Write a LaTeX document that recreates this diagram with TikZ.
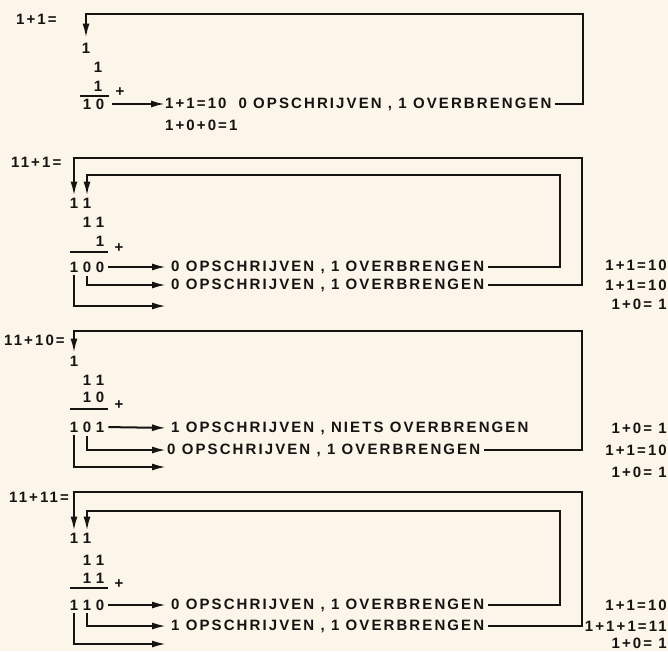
\documentclass[tikz,border=0pt]{standalone}
\usepackage{fontspec}
\setmainfont{Liberation Sans}[LetterSpace=14]
\usetikzlibrary{arrows.meta}
\definecolor{paper}{RGB}{252,245,233}
\definecolor{ink}{RGB}{22,20,18}
\tikzset{
  txt/.style={font=\bfseries\fontsize{15}{17}\selectfont, text=ink, inner sep=0pt},
  dg/.style={txt, anchor=center},
  lbl/.style={txt, anchor=west},
  req/.style={txt, anchor=east},
  ln/.style={draw=ink, line width=2pt},
  arr/.style={ln, -{Latex[length=14pt,width=7pt]}},
}
\begin{document}
\begin{tikzpicture}[x=1pt,y=-1pt]
\fill[paper] (0,0) rectangle (668,651);
\useasboundingbox (0,0) rectangle (668,651);

% ---------- section 1 : 1+1 ----------
\node[lbl] (s1q) at (16,19) {1+1=};
\node[dg] (s1c) at (86,48) {1};
\node[dg] (s1a) at (98,67) {1};
\node[dg] (s1b) at (98,86) {1};
\draw[ln] (80,96) -- (109,96);
\node[dg] (s1p) at (120,92) {+};
\node[dg] (s1r1) at (87,104) {1};
\node[dg] (s1r0) at (100,104) {0};
\node[lbl] (s1l1) at (165,104) {1+1=10\hspace{12pt}0 OPSCHRIJVEN , 1 OVERBRENGEN};
\node[lbl] (s1l2) at (165,125) {1+0+0=1};
\draw[arr, shorten <=8pt] (s1r0.east) -- (s1l1.west);
\coordinate (s1t) at (583,14);
\draw[arr, shorten <=3pt, shorten >=5pt] (s1l1.east) -| (s1t) -| (s1c.north);

% ---------- section 2 : 11+1 ----------
\node[lbl] (s2q) at (11,162) {11+1=};
\node[dg] (s2k2) at (74,203) {1};
\node[dg] (s2k1) at (87,203) {1};
\node[dg] (s2a1) at (87,222) {1};
\node[dg] (s2a0) at (100,222) {1};
\node[dg] (s2b0) at (100,241) {1};
\draw[ln] (70,252) -- (108,252);
\node[dg] (s2p) at (119,248) {+};
\node[dg] (s2r2) at (74,267) {1};
\node[dg] (s2r1) at (87,267) {0};
\node[dg] (s2r0) at (100,267) {0};
\node[lbl] (s2l1) at (171,267) {0 OPSCHRIJVEN , 1 OVERBRENGEN};
\node[lbl] (s2l2) at (171,285) {0 OPSCHRIJVEN , 1 OVERBRENGEN};
\coordinate (s2e3) at (166,306);
\draw[arr, shorten <=4pt, shorten >=5pt] (s2r0.east) -- (s2l1.west);
\draw[arr, shorten <=3pt, shorten >=5pt] (s2r1.south) |- (s2l2.west);
\draw[arr, shorten <=3pt] (s2r2.south) |- (s2e3);
\coordinate (s2ti) at (560,175);
\coordinate (s2to) at (582,158);
\draw[arr, shorten <=4pt, shorten >=2pt] (s2l1.east) -| (s2ti) -| (s2k1.north);
\draw[arr, shorten <=4pt, shorten >=2pt] (s2l2.east) -| (s2to) -| (s2k2.north);
\node[req] (s2m1) at (667,265) {1+1=10};
\node[req] (s2m2) at (667,285) {1+1=10};
\node[req] (s2m3) at (667,304) {1+0= 1};

% ---------- section 3 : 11+10 ----------
\node[lbl] (s3q) at (4,340) {11+10=};
\node[dg] (s3k2) at (74,361) {1};
\node[dg] (s3a1) at (87,380) {1};
\node[dg] (s3a0) at (100,380) {1};
\node[dg] (s3b1) at (87,397) {1};
\node[dg] (s3b0) at (100,397) {0};
\draw[ln] (70,409) -- (108,409);
\node[dg] (s3p) at (119,405) {+};
\node[dg] (s3r2) at (74,427) {1};
\node[dg] (s3r1) at (87,427) {0};
\node[dg] (s3r0) at (100,427) {1};
\node[lbl] (s3l1) at (171,428) {1 OPSCHRIJVEN , NIETS OVERBRENGEN};
\node[lbl] (s3l2) at (167,450) {0 OPSCHRIJVEN , 1 OVERBRENGEN};
\coordinate (s3e3) at (166,467);
\draw[arr, shorten <=4pt, shorten >=5pt] (s3r0.east) -- (s3l1.west);
\draw[arr, shorten <=3pt, shorten >=1pt] (s3r1.south) |- (s3l2.west);
\draw[arr, shorten <=3pt] (s3r2.south) |- (s3e3);
\coordinate (s3to) at (582,331);
\draw[arr, shorten <=4pt, shorten >=3pt] (s3l2.east) -| (s3to) -| (s3k2.north);
\node[req] (s3m1) at (667,428) {1+0= 1};
\node[req] (s3m2) at (667,450) {1+1=10};
\node[req] (s3m3) at (667,472) {1+0= 1};

% ---------- section 4 : 11+11 ----------
\node[lbl] (s4q) at (9,497) {11+11=};
\node[dg] (s4k2) at (74,538) {1};
\node[dg] (s4k1) at (87,538) {1};
\node[dg] (s4a1) at (87,560) {1};
\node[dg] (s4a0) at (100,560) {1};
\node[dg] (s4b1) at (87,578) {1};
\node[dg] (s4b0) at (100,578) {1};
\draw[ln] (70,588) -- (108,588);
\node[dg] (s4p) at (119,584) {+};
\node[dg] (s4r2) at (74,605) {1};
\node[dg] (s4r1) at (87,605) {1};
\node[dg] (s4r0) at (100,605) {0};
\node[lbl] (s4l1) at (171,605) {0 OPSCHRIJVEN , 1 OVERBRENGEN};
\node[lbl] (s4l2) at (171,626) {1 OPSCHRIJVEN , 1 OVERBRENGEN};
\coordinate (s4e3) at (166,644);
\draw[arr, shorten <=4pt, shorten >=5pt] (s4r0.east) -- (s4l1.west);
\draw[arr, shorten <=3pt, shorten >=5pt] (s4r1.south) |- (s4l2.west);
\draw[arr, shorten <=3pt] (s4r2.south) |- (s4e3);
\coordinate (s4ti) at (560,511);
\coordinate (s4to) at (582,492);
\draw[arr, shorten <=4pt, shorten >=2pt] (s4l1.east) -| (s4ti) -| (s4k1.north);
\draw[arr, shorten <=4pt, shorten >=2pt] (s4l2.east) -| (s4to) -| (s4k2.north);
\node[req] (s4m1) at (667,605) {1+1=10};
\node[req] (s4m2) at (667,626) {1+1+1=11};
\node[req] (s4m3) at (667,643) {1+0= 1};
\end{tikzpicture}
\end{document}
